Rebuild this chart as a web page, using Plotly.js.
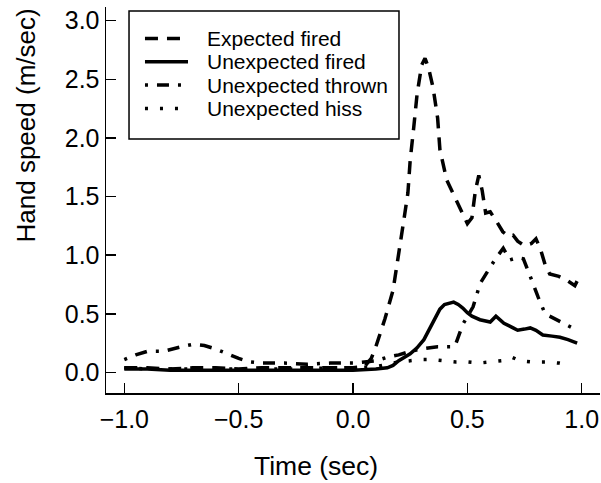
<!DOCTYPE html>
<html>
<head>
<meta charset="utf-8">
<script src="https://cdn.plot.ly/plotly-3.0.1.min.js"></script>
<style>html,body{margin:0;padding:0;background:#fff;}#chart{width:601px;height:483px;}</style>
</head>
<body>
<div id="chart"></div>
<script>
// Series names
const seriesNames = ["Expected fired", "Unexpected fired", "Unexpected thrown", "Unexpected hiss"];

// Expected fired
const tExpFired = [-1.0,-0.9,-0.8,-0.7,-0.6,-0.5,-0.4,-0.3,-0.2,-0.1,0.0,0.05,0.08,0.10,0.14,0.175,0.2,0.22,0.24,0.25,0.265,0.28,0.3,0.315,0.33,0.35,0.37,0.38,0.41,0.46,0.50,0.52,0.535,0.55,0.565,0.58,0.60,0.63,0.655,0.68,0.70,0.72,0.75,0.78,0.80,0.82,0.84,0.86,0.9,0.94,0.97,0.98];
const vExpFired = [0.04,0.04,0.03,0.04,0.04,0.03,0.04,0.04,0.04,0.04,0.04,0.05,0.12,0.22,0.46,0.70,1.00,1.27,1.53,1.81,2.08,2.37,2.62,2.68,2.60,2.43,2.17,1.90,1.64,1.44,1.27,1.32,1.55,1.68,1.55,1.36,1.37,1.28,1.20,1.16,1.17,1.12,1.08,1.10,1.14,1.05,0.92,0.84,0.82,0.78,0.74,0.78];

// Unexpected fired
const tUnexpFired = [-1.0,-0.9,-0.8,-0.7,-0.6,-0.5,-0.4,-0.3,-0.2,-0.1,0.0,0.1,0.15,0.175,0.2,0.25,0.28,0.31,0.34,0.36,0.38,0.40,0.42,0.44,0.46,0.48,0.50,0.52,0.555,0.60,0.625,0.66,0.70,0.72,0.75,0.775,0.80,0.83,0.87,0.905,0.94,0.98];
const vUnexpFired = [0.03,0.03,0.02,0.02,0.02,0.02,0.02,0.02,0.02,0.02,0.02,0.03,0.04,0.06,0.10,0.16,0.21,0.28,0.39,0.47,0.54,0.58,0.59,0.60,0.58,0.55,0.51,0.48,0.45,0.43,0.48,0.42,0.38,0.36,0.37,0.38,0.36,0.32,0.31,0.30,0.28,0.25];

// Unexpected thrown
const tThrown = [-1.0,-0.95,-0.9,-0.83,-0.75,-0.7,-0.65,-0.6,-0.55,-0.5,-0.45,-0.4,-0.3,-0.2,-0.1,0.0,0.05,0.1,0.15,0.2,0.25,0.3,0.37,0.445,0.48,0.525,0.556,0.6,0.62,0.657,0.686,0.72,0.745,0.765,0.78,0.81,0.84,0.87,0.9,0.935,0.97];
const vThrown = [0.11,0.15,0.18,0.18,0.22,0.24,0.23,0.20,0.16,0.12,0.09,0.08,0.08,0.07,0.08,0.08,0.09,0.10,0.13,0.15,0.18,0.20,0.22,0.22,0.41,0.56,0.76,0.90,0.96,1.06,0.96,0.98,0.97,0.87,0.79,0.64,0.50,0.47,0.44,0.40,0.37];

// Unexpected hiss
const tHiss = [-1.0,-0.9,-0.8,-0.7,-0.6,-0.5,-0.4,-0.3,-0.2,-0.1,0.0,0.1,0.15,0.2,0.25,0.3,0.35,0.4,0.45,0.5,0.55,0.6,0.65,0.695,0.73,0.78,0.85,0.9,0.95];
const vHiss = [0.04,0.03,0.03,0.03,0.03,0.03,0.03,0.03,0.03,0.04,0.04,0.05,0.07,0.09,0.10,0.11,0.11,0.10,0.09,0.09,0.08,0.09,0.10,0.13,0.10,0.09,0.09,0.08,0.06];

// Axis ticks and titles
const xTicks = [-1.0, -0.5, 0.0, 0.5, 1.0];
const xTickText = ["\u22121.0", "\u22120.5", "0.0", "0.5", "1.0"];
const yTicks = [0.0, 0.5, 1.0, 1.5, 2.0, 2.5, 3.0];
const yTickText = ["0.0", "0.5", "1.0", "1.5", "2.0", "2.5", "3.0"];
const xTitle = "Time (sec)";
const yTitle = "Hand speed (m/sec)";

const FONT = "Liberation Sans, Arial, Helvetica, sans-serif";
const LW = 3.5;
const dashes = ["13px,9px", "solid", "3px,9px,12px,9px", "3px,12px"];

const seriesT = [tExpFired, tUnexpFired, tThrown, tHiss];
const seriesV = [vExpFired, vUnexpFired, vThrown, vHiss];

const traces = seriesNames.map((n, i) => ({
  x: seriesT[i], y: seriesV[i], name: n, mode: "lines", showlegend: false,
  line: {color: "#000", width: LW, dash: dashes[i]}
}));

// Legend drawn in paper coordinates (box, samples, labels)
const legX0 = 0.0466, legX1 = 0.5931, legY0 = 0.658, legY1 = 0.9896;
const legRowY = [0.9184, 0.8580, 0.7977, 0.7373];
const shapes = [{type: "rect", xref: "paper", yref: "paper", x0: legX0, x1: legX1, y0: legY0, y1: legY1,
  line: {color: "#000", width: 1.5}, fillcolor: "#fff", layer: "below"}];
const annotations = [];
seriesNames.forEach((n, i) => {
  shapes.push({type: "line", xref: "paper", yref: "paper", x0: 0.0789, x1: 0.166, y0: legRowY[i], y1: legRowY[i],
    line: {color: "#000", width: LW, dash: dashes[i]}});
  annotations.push({xref: "paper", yref: "paper", x: 0.2, y: legRowY[i], xanchor: "left", yanchor: "middle",
    text: n, showarrow: false, font: {family: FONT, size: 21, color: "#000"}});
});
annotations.push({xref: "paper", yref: "paper", x: 0.425, y: -0.19, xanchor: "center", yanchor: "middle",
  text: xTitle, showarrow: false, font: {family: FONT, size: 26.5, color: "#000"}});
annotations.push({xref: "paper", yref: "paper", x: -0.162, y: 0.693, xanchor: "center", yanchor: "middle",
  text: yTitle, textangle: -90, showarrow: false, font: {family: FONT, size: 26, color: "#000"}});

const layout = {
  width: 601, height: 483,
  margin: {l: 106, r: 1, t: 7, b: 90},
  paper_bgcolor: "#fff", plot_bgcolor: "#fff",
  font: {family: FONT, color: "#000"},
  showlegend: false,
  shapes: shapes,
  annotations: annotations,
  xaxis: {
    range: [-1.08, 1.08],
    tickvals: xTicks, ticktext: xTickText,
    ticks: "inside", ticklen: 10, tickwidth: 1.5, tickcolor: "#000",
    showline: true, linecolor: "#000", linewidth: 1.5, mirror: false,
    showgrid: false, zeroline: false,
    tickfont: {family: FONT, size: 25, color: "#000"},
    ticklabelstandoff: 3,
    automargin: false
  },
  yaxis: {
    range: [-0.175, 3.117],
    tickvals: yTicks, ticktext: yTickText,
    ticks: "inside", ticklen: 10, tickwidth: 1.5, tickcolor: "#000",
    showline: true, linecolor: "#000", linewidth: 1.5, mirror: false,
    showgrid: false, zeroline: false,
    tickfont: {family: FONT, size: 25, color: "#000"},
    automargin: false
  }
};

Plotly.newPlot("chart", traces, layout, {displayModeBar: false, staticPlot: true});
</script>
</body>
</html>
